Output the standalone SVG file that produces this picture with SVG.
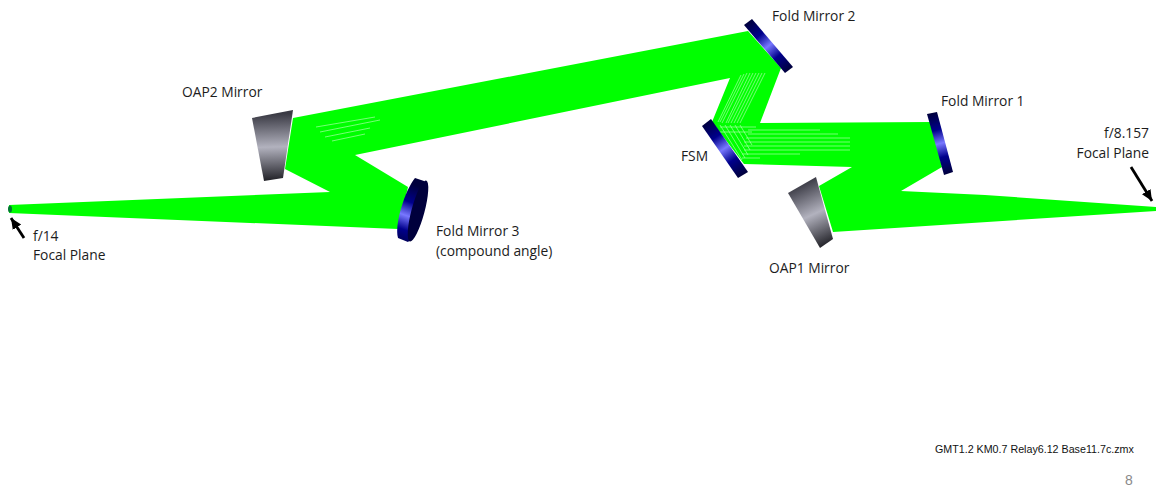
<svg xmlns="http://www.w3.org/2000/svg" xmlns:xlink="http://www.w3.org/1999/xlink" width="1156" height="489" viewBox="0 0 1156 489">
<style>
text{font-family:"Open Sans","Liberation Sans",sans-serif;font-size:13.8px;fill:#1c1c1c}
.beam{fill:#00ff00}
.hatch{fill:none;stroke:#a8ffa8;stroke-width:.7}
.arrow{fill:none;stroke:#000;stroke-width:2.8;marker-end:url(#head)}
</style>
<defs>
<marker id="head" markerUnits="userSpaceOnUse" markerWidth="12" markerHeight="12" refX="11" refY="6" orient="auto"><path d="M0 1L11 6L0 11Z" fill="#000"/></marker>
<linearGradient id="blue"><stop offset="0" stop-color="#00003c"/><stop offset=".28" stop-color="#00008c"/><stop offset=".5" stop-color="#7878ff"/><stop offset=".72" stop-color="#00008c"/><stop offset="1" stop-color="#00003c"/></linearGradient>
<linearGradient id="grey"><stop offset="0" stop-color="#3a3a44"/><stop offset=".5" stop-color="#b2b2be"/><stop offset="1" stop-color="#24242a"/></linearGradient>
<linearGradient id="gFM2" href="#blue" gradientUnits="userSpaceOnUse" x1="748" y1="22" x2="789" y2="70"/>
<linearGradient id="gFM1" href="#blue" gradientUnits="userSpaceOnUse" x1="932" y1="113" x2="948" y2="174"/>
<linearGradient id="gFSM" href="#blue" gradientUnits="userSpaceOnUse" x1="706" y1="122" x2="743" y2="175"/>
<linearGradient id="gFM3" href="#blue" gradientUnits="userSpaceOnUse" x1="418" y1="186" x2="397" y2="246"/>
<linearGradient id="gOAP1" href="#grey" gradientUnits="userSpaceOnUse" x1="800" y1="184" x2="828" y2="244"/>
<linearGradient id="gOAP2" href="#grey" gradientUnits="userSpaceOnUse" x1="272" y1="114" x2="274" y2="180"/>
</defs>

<g id="connectors">
<path class="beam" d="M9 205L330 192L285 169L293 118L748 31L781 68L760 123L932 122L942 167L901 191L985 195L1156 207V211L833 232L819 186L852 167L744 164L712 122L730 78L355 155L408 187L398 229L9 213Z"/>
<path class="hatch" d="M747 73L722 123M744 74L720 122M741 75L718 122M750 73L726 123M753 73L728 123M756 73L731 123M759 73L734 123M762 73L737 123M765 73L740 123M720 125L742 160M725 125L745 158M730 125L748 155M735 125L750 150M740 125L752 145M720 127H756M720 132H752M748 130H820M748 134H838M746 138H850M744 142H850M744 146H850M744 150H850M742 154H800M742 158H760M316 127L375 117M320 132L380 120M325 137L370 128M332 141L365 134"/>
<path class="arrow" d="M24 238L11 218"/>
<path class="arrow" d="M1131 167L1152 201"/>
</g>

<g id="oap2"><path d="M252 118L293 110L283 178L264 181Z" fill="url(#gOAP2)"/><text x="182" y="97">OAP2 Mirror</text></g>
<g id="oap1"><path d="M788 193L816 177L833 239L820 248Z" fill="url(#gOAP1)"/><text x="769" y="273">OAP1 Mirror</text></g>
<g id="fold1"><path d="M927 114L937 112L953 172L944 175Z" fill="url(#gFM1)"/><text x="941" y="106">Fold Mirror 1</text></g>
<g id="fold2"><path d="M744 25L752 19L793 67L785 73Z" fill="url(#gFM2)"/><text x="772" y="21">Fold Mirror 2</text></g>
<g id="fsm"><path d="M702 126L711 119L748 172L738 178Z" fill="url(#gFSM)"/><text x="681" y="161">FSM</text></g>
<g id="fold3">
<path d="M415 178L424 181C428 195 418 235 408 242L398 238C394 225 405 190 415 178Z" fill="url(#gFM3)"/>
<ellipse cx="418" cy="211" rx="6.5" ry="31.5" transform="rotate(15 418 211)" fill="#00003c"/>
<text x="436" y="236">Fold Mirror 3</text><text x="436" y="256">(compound angle)</text>
</g>
<g id="focal-left"><ellipse cx="10" cy="209" rx="2" ry="3.5" fill="#007a30"/><text x="33" y="241">f/14</text><text x="33" y="260">Focal Plane</text></g>
<g id="focal-right"><text x="1149" y="138" text-anchor="end">f/8.157</text><text x="1149" y="158" text-anchor="end">Focal Plane</text></g>
<text x="935" y="453" style="font-family:'Liberation Sans',sans-serif;font-size:10.7px;fill:#111">GMT1.2 KM0.7 Relay6.12 Base11.7c.zmx</text>
<text x="1125" y="485" style="font-family:'Liberation Sans',sans-serif;font-size:14px;fill:#8a8a8a">8</text>
</svg>
